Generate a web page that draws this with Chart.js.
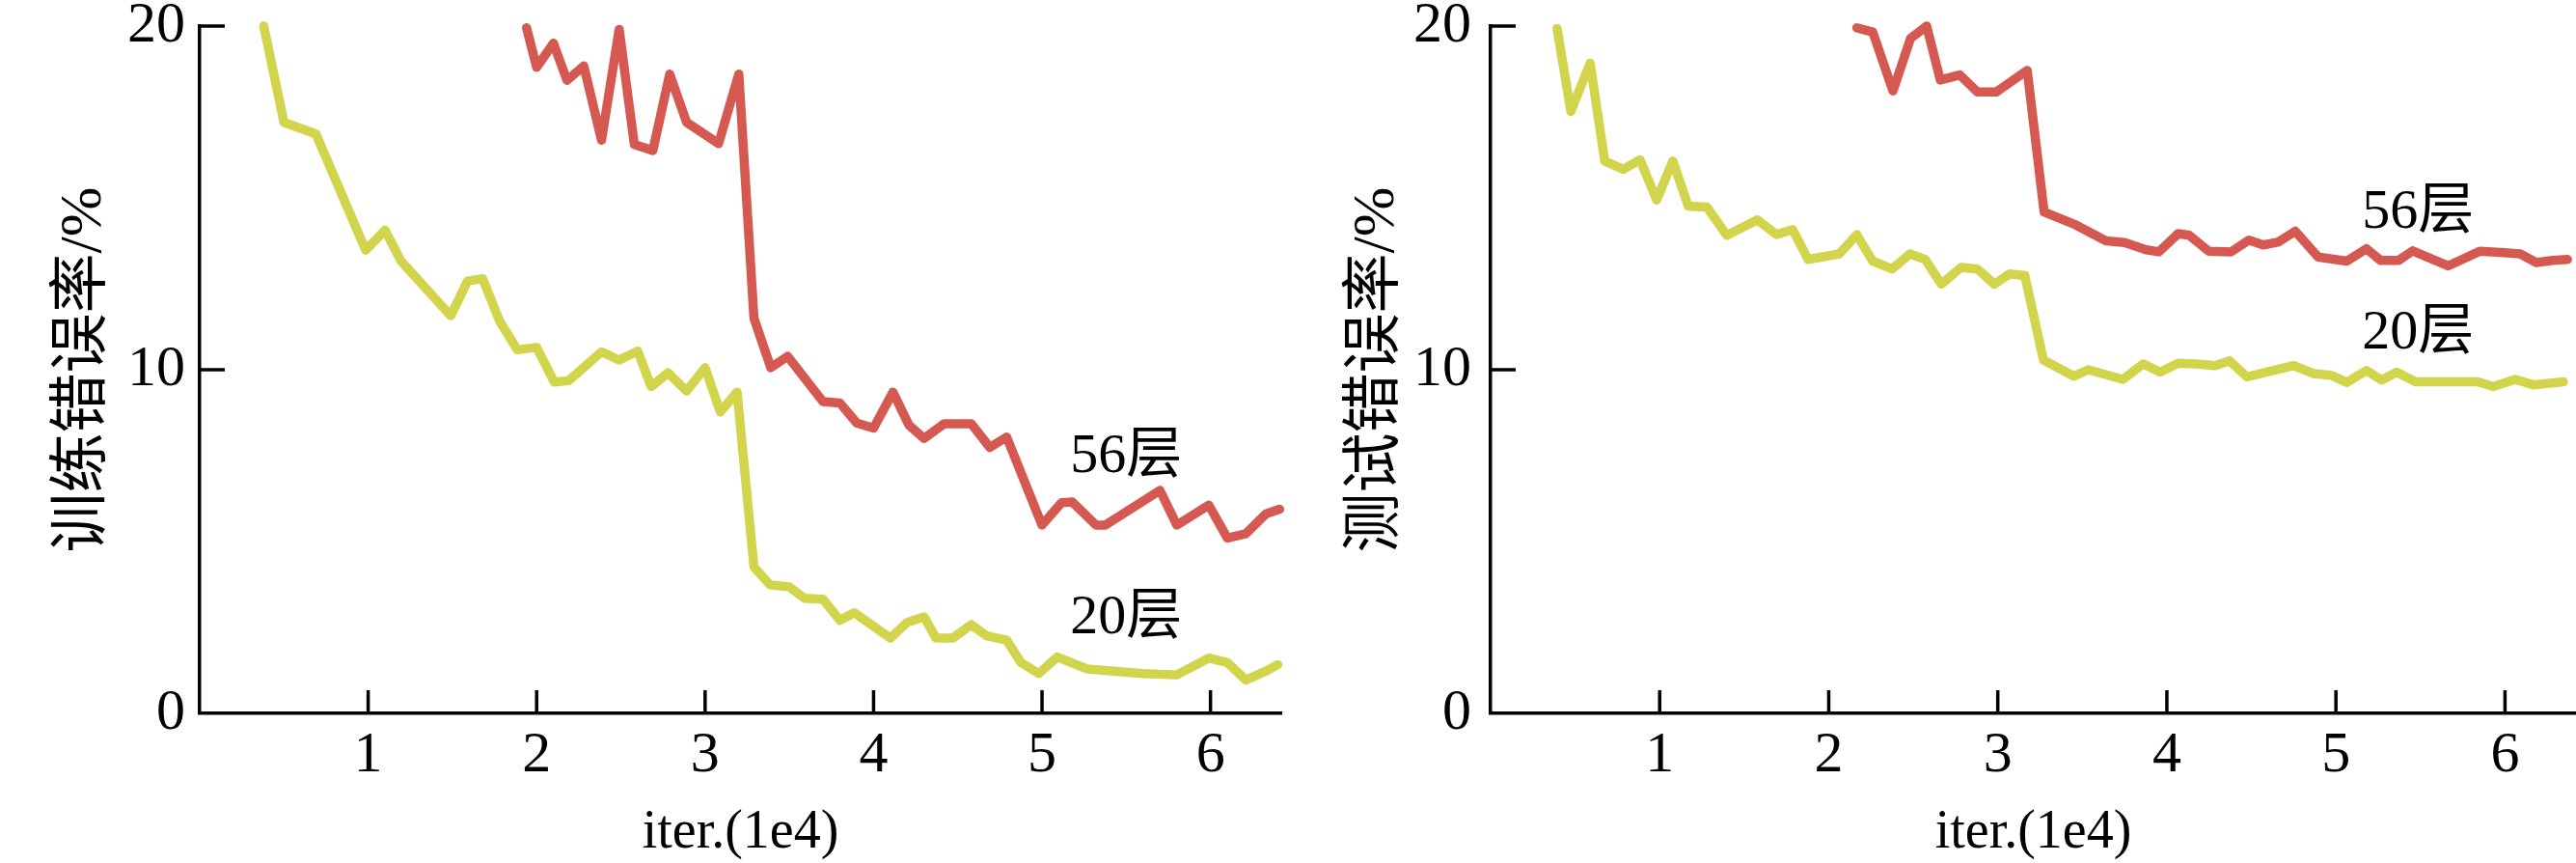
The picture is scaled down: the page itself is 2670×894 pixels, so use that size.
<!DOCTYPE html>
<html><head><meta charset="utf-8">
<script src="https://cdn.jsdelivr.net/npm/chart.js@4.4.1/dist/chart.umd.min.js"></script>
<style>
html,body{margin:0;padding:0;background:#fff;overflow:hidden;}
#wrap{position:relative;width:2670px;height:894px;background:#fff;}
.c{position:absolute;top:0;width:1335px;height:894px;}
</style></head><body>
<div id="wrap">
<div class="c" style="left:0"><canvas id="train" width="1335" height="894"></canvas></div>
<div class="c" style="left:1335px"><canvas id="test" width="1335" height="894"></canvas></div>
</div>
<script>
// ---- data ----
const xTicks = [1, 2, 3, 4, 5, 6];
const yTicks = [0, 10, 20];
const xTitle = 'iter.(1e4)';
const trainTitle = '训练错误率/%';
const testTitle = '测试错误率/%';
const seriesNames = ['20层', '56层'];

const trainX20 = [0.38, 0.50, 0.69, 0.985, 1.10, 1.195, 1.49, 1.59, 1.68, 1.78, 1.885, 2.0, 2.105, 2.19, 2.385, 2.49, 2.6, 2.68, 2.78, 2.89, 3.0, 3.09, 3.19, 3.29, 3.385, 3.5, 3.59, 3.70, 3.80, 3.885, 4.1, 4.2, 4.3, 4.37, 4.47, 4.58, 4.67, 4.79, 4.875, 4.98, 5.09, 5.27, 5.6, 5.8, 5.99, 6.1, 6.21, 6.33, 6.40];
const train20 = [20.0, 17.2, 16.86, 13.48, 14.06, 13.16, 11.57, 12.58, 12.65, 11.42, 10.58, 10.65, 9.64, 9.68, 10.52, 10.28, 10.54, 9.51, 9.91, 9.38, 10.06, 8.77, 9.35, 4.26, 3.74, 3.68, 3.35, 3.32, 2.71, 2.93, 2.19, 2.65, 2.81, 2.19, 2.19, 2.58, 2.26, 2.13, 1.48, 1.16, 1.64, 1.29, 1.16, 1.12, 1.61, 1.48, 0.97, 1.23, 1.42];

const trainX56 = [1.94, 2.0, 2.10, 2.18, 2.28, 2.385, 2.49, 2.58, 2.69, 2.79, 2.89, 3.08, 3.20, 3.29, 3.39, 3.49, 3.70, 3.80, 3.90, 4.0, 4.115, 4.21, 4.30, 4.42, 4.58, 4.69, 4.79, 5.0, 5.115, 5.18, 5.32, 5.375, 5.70, 5.80, 5.99, 6.10, 6.21, 6.33, 6.41];
const train56 = [19.95, 18.8, 19.5, 18.42, 18.84, 16.68, 19.9, 16.55, 16.38, 18.6, 17.2, 16.58, 18.6, 11.5, 10.06, 10.39, 9.07, 9.03, 8.45, 8.3, 9.35, 8.39, 8.0, 8.43, 8.43, 7.74, 8.04, 5.48, 6.13, 6.15, 5.48, 5.48, 6.49, 5.48, 6.06, 5.10, 5.23, 5.81, 5.94];

const testX20 = [0.393, 0.475, 0.589, 0.675, 0.785, 0.884, 0.982, 1.078, 1.169, 1.279, 1.397, 1.578, 1.692, 1.786, 1.878, 2.062, 2.166, 2.26, 2.375, 2.48, 2.57, 2.666, 2.784, 2.88, 2.98, 3.07, 3.16, 3.27, 3.45, 3.535, 3.74, 3.86, 3.96, 4.067, 4.17, 4.286, 4.37, 4.475, 4.75, 4.865, 4.97, 5.064, 5.18, 5.27, 5.36, 5.47, 5.84, 5.93, 6.06, 6.166, 6.346];
const test20 = [19.93, 17.52, 18.92, 16.07, 15.83, 16.11, 14.94, 16.07, 14.76, 14.73, 13.91, 14.36, 13.93, 14.08, 13.21, 13.37, 13.93, 13.16, 12.93, 13.37, 13.21, 12.49, 12.98, 12.93, 12.49, 12.79, 12.74, 10.28, 9.81, 10.0, 9.72, 10.17, 9.93, 10.19, 10.17, 10.12, 10.26, 9.79, 10.12, 9.89, 9.84, 9.63, 9.98, 9.70, 9.93, 9.65, 9.65, 9.51, 9.72, 9.56, 9.65];

const testX56 = [2.166, 2.26, 2.38, 2.484, 2.579, 2.66, 2.775, 2.88, 2.99, 3.174, 3.274, 3.45, 3.64, 3.75, 3.877, 3.953, 4.067, 4.133, 4.247, 4.38, 4.485, 4.57, 4.656, 4.76, 4.894, 5.064, 5.18, 5.264, 5.37, 5.454, 5.663, 5.853, 6.015, 6.09, 6.186, 6.28, 6.37];
const test56 = [19.95, 19.83, 18.11, 19.64, 20.0, 18.43, 18.58, 18.08, 18.08, 18.71, 14.59, 14.24, 13.75, 13.70, 13.49, 13.43, 13.96, 13.91, 13.45, 13.43, 13.77, 13.63, 13.71, 14.03, 13.28, 13.16, 13.52, 13.18, 13.18, 13.46, 13.02, 13.45, 13.40, 13.37, 13.12, 13.18, 13.21];

// label anchor positions (data coordinates)
const trainLabelPos = [[5.5, 2.75], [5.5, 7.45]];
const testLabelPos = [[5.485, 11.05], [5.485, 14.55]];

// ---- styles ----
const FAMILY = "'Liberation Serif', 'Noto Sans CJK SC', serif";
const RED = '#d55951';
const YELLOW = '#d2d44c';
const AXIS_W = 3.5;
const LINE_W = 9.5;

const pts = (xs, ys) => xs.map((x, i) => ({x: x, y: ys[i]}));

const innerTicks = {
  id: 'innerTicks',
  afterDraw(chart, args, opts) {
    const {ctx, chartArea: a, scales: {x, y}} = chart;
    ctx.save();
    ctx.strokeStyle = '#000';
    ctx.lineWidth = AXIS_W;
    ctx.lineCap = 'butt';
    xTicks.forEach(v => {
      const px = x.getPixelForValue(v);
      ctx.beginPath(); ctx.moveTo(px, a.bottom); ctx.lineTo(px, a.bottom - 24); ctx.stroke();
    });
    yTicks.filter(v => v > 0).forEach(v => {
      const py = y.getPixelForValue(v);
      ctx.beginPath(); ctx.moveTo(a.left - AXIS_W / 2, py); ctx.lineTo(a.left + 26, py); ctx.stroke();
    });
    ctx.fillStyle = '#000';
    ctx.font = '58px ' + FAMILY;
    ctx.textAlign = 'center';
    ctx.textBaseline = 'middle';
    (opts.labels || []).forEach(l => {
      ctx.fillText(l.text, x.getPixelForValue(l.x), y.getPixelForValue(l.y));
    });
    ctx.restore();
  }
};

function makeChart(id, xs20, ys20, xs56, ys56, yTitle, yWidth, yTitlePad, yLabelPad, padRight, labelPos) {
  return new Chart(document.getElementById(id), {
    type: 'line',
    data: {
      datasets: [
        {label: seriesNames[0], data: pts(xs20, ys20), borderColor: YELLOW, borderWidth: LINE_W, pointRadius: 0, tension: 0, borderJoinStyle: 'round', borderCapStyle: 'round', clip: false},
        {label: seriesNames[1], data: pts(xs56, ys56), borderColor: RED, borderWidth: LINE_W, pointRadius: 0, tension: 0, borderJoinStyle: 'round', borderCapStyle: 'round', clip: false}
      ]
    },
    options: {
      responsive: false,
      animation: false,
      devicePixelRatio: 1,
      layout: {padding: {left: 0, top: 27, right: padRight, bottom: 0}},
      plugins: {
        legend: {display: false},
        tooltip: {enabled: false},
        innerTicks: {labels: labelPos.map((p, i) => ({text: seriesNames[i], x: p[0], y: p[1]}))}
      },
      scales: {
        x: {
          type: 'linear', position: 'bottom', min: 0, max: 6.42,
          afterBuildTicks: s => { s.ticks = xTicks.map(v => ({value: v})); },
          afterFit: s => { s.height = 155; s.paddingLeft = 0; s.paddingRight = 0; },
          grid: {display: false, drawTicks: false},
          border: {display: true, color: '#000', width: AXIS_W},
          ticks: {color: '#000', font: {family: FAMILY, size: 60, lineHeight: 1}, padding: 14, maxRotation: 0, autoSkip: false},
          title: {display: true, text: xTitle, color: '#000', font: {family: FAMILY, size: 56, lineHeight: 1}, padding: {top: 0, bottom: 3}}
        },
        y: {
          type: 'linear', position: 'left', min: 0, max: 20,
          afterBuildTicks: s => { s.ticks = yTicks.map(v => ({value: v})); },
          afterFit: s => { s.width = yWidth; s.paddingTop = 0; s.paddingBottom = 0; },
          grid: {display: false, drawTicks: false},
          border: {display: true, color: '#000', width: AXIS_W},
          ticks: {color: '#000', font: {family: FAMILY, size: 60, lineHeight: 1}, padding: yLabelPad},
          title: {display: true, text: yTitle, color: '#000', font: {family: FAMILY, size: 62, lineHeight: 1}, padding: {top: yTitlePad, bottom: 0}}
        }
      }
    },
    plugins: [innerTicks]
  });
}

makeChart('train', trainX20, train20, trainX56, train56, trainTitle, 207, 57, 15, 7, trainLabelPos);
makeChart('test', testX20, test20, testX56, test56, testTitle, 210, 62, 20, 0, testLabelPos);
</script>
</body></html>
